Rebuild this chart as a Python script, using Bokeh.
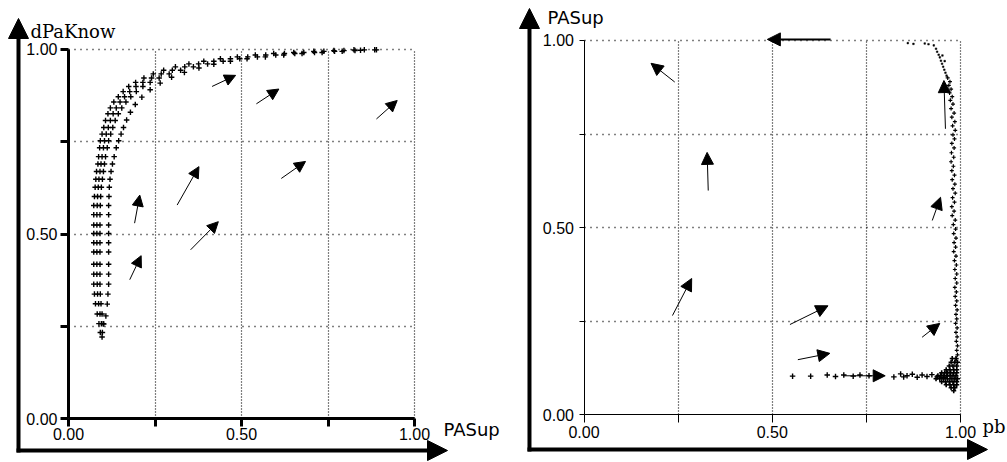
from bokeh.plotting import figure
from bokeh.layouts import row
from bokeh.models import (LinearAxis, Grid, FixedTicker, NumeralTickFormatter, Arrow,
                          NormalHead, Label, ColumnDataSource, Range1d)
from bokeh.embed import file_html
from bokeh.resources import INLINE

# ---------------- data : left phase plane (PASup vs dPaKnow) ----------------
trajA_x = [0.097, 0.092, 0.088, 0.083, 0.078, 0.075, 0.073, 0.073, 0.073, 0.073, 0.073, 0.073,
           0.073, 0.073, 0.073, 0.075, 0.077, 0.079, 0.081, 0.085, 0.087, 0.090, 0.092, 0.097,
           0.102, 0.107, 0.114, 0.121, 0.131, 0.144, 0.158, 0.174, 0.194, 0.218, 0.245, 0.275,
           0.309, 0.348, 0.391, 0.439, 0.488, 0.540, 0.593, 0.651, 0.709, 0.767, 0.825]
trajA_y = [0.222, 0.234, 0.258, 0.284, 0.312, 0.338, 0.365, 0.392, 0.419, 0.452, 0.477, 0.502,
           0.525, 0.553, 0.578, 0.602, 0.627, 0.649, 0.670, 0.690, 0.710, 0.734, 0.753, 0.771,
           0.789, 0.808, 0.826, 0.842, 0.858, 0.872, 0.886, 0.900, 0.911, 0.923, 0.934, 0.944,
           0.953, 0.961, 0.968, 0.975, 0.980, 0.985, 0.989, 0.992, 0.995, 0.997, 0.999]
trajB_x = [0.098, 0.095, 0.091, 0.087, 0.084, 0.083, 0.082, 0.082, 0.082, 0.082, 0.082, 0.082,
           0.082, 0.083, 0.084, 0.086, 0.088, 0.091, 0.094, 0.097, 0.101, 0.104, 0.109, 0.115,
           0.121, 0.129, 0.138, 0.149, 0.162, 0.177, 0.195, 0.215, 0.240, 0.268, 0.300, 0.336,
           0.376, 0.420, 0.468, 0.518, 0.570, 0.624, 0.680, 0.738, 0.796, 0.855]
trajB_y = [0.234, 0.258, 0.284, 0.312, 0.338, 0.365, 0.392, 0.419, 0.452, 0.477, 0.502, 0.525,
           0.553, 0.578, 0.602, 0.627, 0.649, 0.670, 0.690, 0.710, 0.734, 0.753, 0.771, 0.789,
           0.808, 0.826, 0.842, 0.858, 0.872, 0.886, 0.900, 0.911, 0.923, 0.934, 0.944, 0.953,
           0.961, 0.968, 0.975, 0.980, 0.985, 0.989, 0.992, 0.995, 0.997, 0.999]
trajC_x = [0.100, 0.097, 0.094, 0.092, 0.091, 0.091, 0.091, 0.091, 0.091, 0.091, 0.091, 0.091,
           0.092, 0.093, 0.095, 0.098, 0.101, 0.104, 0.107, 0.112, 0.116, 0.122, 0.128, 0.135,
           0.144, 0.154, 0.166, 0.180, 0.196, 0.215, 0.236, 0.262, 0.291, 0.324, 0.361, 0.402,
           0.447, 0.495, 0.546, 0.599, 0.654, 0.711, 0.769, 0.828, 0.885]
trajC_y = [0.258, 0.284, 0.312, 0.338, 0.365, 0.392, 0.419, 0.452, 0.477, 0.502, 0.525, 0.553,
           0.578, 0.602, 0.627, 0.649, 0.670, 0.690, 0.710, 0.734, 0.753, 0.771, 0.789, 0.808,
           0.826, 0.842, 0.858, 0.872, 0.886, 0.900, 0.911, 0.923, 0.934, 0.944, 0.953, 0.961,
           0.968, 0.975, 0.980, 0.985, 0.989, 0.992, 0.995, 0.997, 0.999]
trajD_x = [0.102, 0.108, 0.112, 0.114, 0.116, 0.116, 0.116, 0.116, 0.116, 0.116, 0.116, 0.116,
           0.116, 0.117, 0.118, 0.120, 0.123, 0.127, 0.132, 0.138, 0.145, 0.152, 0.159, 0.168,
           0.179, 0.193, 0.212, 0.236, 0.265, 0.298, 0.335, 0.377, 0.420, 0.468, 0.516, 0.569,
           0.622, 0.675, 0.733, 0.791, 0.844, 0.890]
trajD_y = [0.257, 0.279, 0.311, 0.338, 0.365, 0.392, 0.419, 0.452, 0.477, 0.502, 0.525, 0.553,
           0.578, 0.602, 0.627, 0.649, 0.670, 0.690, 0.710, 0.734, 0.753, 0.771, 0.789, 0.809,
           0.830, 0.851, 0.871, 0.891, 0.909, 0.925, 0.938, 0.950, 0.960, 0.968, 0.975, 0.980,
           0.985, 0.989, 0.992, 0.995, 0.998, 0.999]

left_arrow_x0 = [0.415, 0.543, 0.890, 0.615, 0.314, 0.191, 0.353, 0.177]
left_arrow_y0 = [0.900, 0.853, 0.812, 0.651, 0.579, 0.530, 0.458, 0.377]
left_arrow_x1 = [0.483, 0.608, 0.950, 0.685, 0.377, 0.206, 0.433, 0.210]
left_arrow_y1 = [0.930, 0.893, 0.862, 0.697, 0.683, 0.606, 0.534, 0.442]

# ---------------- data : right phase plane (pb vs PASup) ----------------
top_x = [0.860, 0.875, 0.905, 0.915, 0.929, 0.935, 0.938, 0.942, 0.945, 0.948, 0.951, 0.952,
         0.954, 0.957, 0.958, 0.960, 0.963]
top_y = [0.993, 0.991, 0.992, 0.990, 0.987, 0.978, 0.970, 0.962, 0.955, 0.946, 0.938, 0.960,
         0.930, 0.922, 0.945, 0.914, 0.906]

col_x = [0.966, 0.972, 0.969, 0.975, 0.971, 0.978, 0.973, 0.980, 0.975, 0.983, 0.977, 0.985,
         0.979, 0.986, 0.980, 0.984, 0.977, 0.983, 0.976, 0.982, 0.975, 0.981, 0.977, 0.984,
         0.978, 0.985, 0.980, 0.986, 0.979, 0.984, 0.977, 0.983, 0.978, 0.986, 0.981, 0.987,
         0.982, 0.988, 0.983, 0.987, 0.982, 0.988, 0.984, 0.989, 0.985, 0.990, 0.986, 0.990,
         0.985, 0.989, 0.986, 0.990, 0.987, 0.991, 0.988, 0.990, 0.987, 0.991, 0.988, 0.991,
         0.989, 0.992, 0.990, 0.992, 0.989]
col_y = [0.900, 0.890, 0.880, 0.870, 0.860, 0.850, 0.840, 0.830, 0.818, 0.806, 0.795, 0.783,
         0.772, 0.760, 0.748, 0.737, 0.725, 0.713, 0.700, 0.688, 0.676, 0.664, 0.652, 0.640,
         0.628, 0.616, 0.604, 0.592, 0.580, 0.568, 0.556, 0.544, 0.532, 0.520, 0.508, 0.496,
         0.484, 0.472, 0.460, 0.448, 0.436, 0.424, 0.412, 0.400, 0.388, 0.376, 0.364, 0.352,
         0.340, 0.328, 0.316, 0.304, 0.292, 0.280, 0.268, 0.256, 0.244, 0.232, 0.220, 0.208,
         0.196, 0.184, 0.172, 0.160, 0.150]

row_x = [0.554, 0.602, 0.646, 0.668, 0.690, 0.715, 0.733, 0.757, 0.823, 0.841, 0.849, 0.858,
         0.872, 0.885, 0.898, 0.911, 0.924, 0.938, 0.947, 0.955, 0.964]
row_y = [0.103, 0.103, 0.106, 0.102, 0.106, 0.103, 0.106, 0.104, 0.101, 0.109, 0.101, 0.104,
         0.108, 0.100, 0.106, 0.102, 0.107, 0.101, 0.105, 0.100, 0.104]

clus_x = [0.978, 0.988, 0.975, 0.985, 0.992, 0.970, 0.980, 0.990, 0.962, 0.972, 0.982, 0.990,
          0.950, 0.958, 0.966, 0.974, 0.982, 0.990, 0.940, 0.948, 0.956, 0.964, 0.972, 0.980,
          0.988, 0.935, 0.945, 0.955, 0.965, 0.975, 0.985, 0.992, 0.950, 0.960, 0.970, 0.980,
          0.990, 0.962, 0.972, 0.982, 0.990, 0.975, 0.985, 0.982]
clus_y = [0.150, 0.150, 0.140, 0.140, 0.140, 0.130, 0.130, 0.130, 0.120, 0.120, 0.120, 0.120,
          0.112, 0.112, 0.112, 0.112, 0.112, 0.112, 0.104, 0.104, 0.104, 0.104, 0.104, 0.104,
          0.104, 0.096, 0.096, 0.096, 0.096, 0.096, 0.096, 0.096, 0.088, 0.088, 0.088, 0.088,
          0.088, 0.080, 0.080, 0.080, 0.080, 0.072, 0.072, 0.064]

right_arrow_x0 = [0.330, 0.235, 0.547, 0.568, 0.241, 0.960, 0.925, 0.898, 0.689]
right_arrow_y0 = [0.599, 0.265, 0.241, 0.147, 0.889, 0.764, 0.519, 0.207, 0.104]
right_arrow_x1 = [0.327, 0.286, 0.648, 0.653, 0.178, 0.956, 0.947, 0.945, 0.800]
right_arrow_y1 = [0.701, 0.364, 0.291, 0.164, 0.939, 0.893, 0.581, 0.244, 0.104]
top_arrow = dict(x0=0.655, y0=1.003, x1=0.487, y1=1.003)

major_ticks = [0.0, 0.5, 1.0]
minor_ticks = [0.25, 0.75]
grid_ticks = [0.25, 0.5, 0.75, 1.0]

TICK_FONT = "Liberation Sans"


def base_fig(width, xr, yr):
    p = figure(width=width, height=462, x_range=Range1d(*xr), y_range=Range1d(*yr),
               x_axis_type=None, y_axis_type=None, output_backend="svg",
               toolbar_location=None, min_border=0, outline_line_color=None,
               background_fill_color="white", border_fill_color="white")
    return p


def add_axes(p, lw, tick_len_x, tick_len_y, standoff_x, standoff_y):
    for side, standoff, tl in (("below", standoff_x, tick_len_x), ("left", standoff_y, tick_len_y)):
        ax = LinearAxis(fixed_location=0, bounds=(0, 1),
                        ticker=FixedTicker(ticks=major_ticks, minor_ticks=minor_ticks),
                        formatter=NumeralTickFormatter(format="0.00"),
                        axis_line_width=lw, axis_line_color="black",
                        major_tick_line_width=lw, minor_tick_line_width=lw,
                        major_tick_out=tl, major_tick_in=0, minor_tick_out=tl, minor_tick_in=0,
                        major_label_text_font=TICK_FONT, major_label_text_font_size="16px",
                        major_label_text_color="black", major_label_standoff=standoff)
        p.add_layout(ax, side)


def add_grid(p):
    p.add_layout(Grid(dimension=0, ticker=FixedTicker(ticks=grid_ticks), cross_bounds=(0, 1),
                      grid_line_color="black", grid_line_dash="1 2", grid_line_width=1.2))
    p.add_layout(Grid(dimension=1, ticker=FixedTicker(ticks=grid_ticks), cross_bounds=(0, 1),
                      grid_line_color="black", grid_line_dash="1 5", grid_line_width=1.4))


def add_arrows(p, x0, y0, x1, y1, size=11, lw=1):
    src = ColumnDataSource(dict(x0=x0, y0=y0, x1=x1, y1=y1))
    p.add_layout(Arrow(x_start="x0", y_start="y0", x_end="x1", y_end="y1", source=src,
                       line_width=lw, line_color="black",
                       end=NormalHead(size=size, fill_color="black", line_color="black", line_width=1)))


def outer_arrows(p, vx, vy0, vy1, hy, hx0, hx1):
    head = dict(fill_color="black", line_color="black", line_width=1)
    p.add_layout(Arrow(x_start=vx, y_start=vy0, x_end=vx, y_end=vy1, line_width=4,
                       line_color="black", end=NormalHead(size=20, **head)))
    p.add_layout(Arrow(x_start=hx0, y_start=hy, x_end=hx1, y_end=hy, line_width=4,
                       line_color="black", end=NormalHead(size=20, **head)))


# ---------------- left figure ----------------
p1 = base_fig(500, (-0.19653, 1.24855), (-0.11773, 1.13261))
add_grid(p1)
add_axes(p1, 3, 8, 8, 1, 3)
for xs, ys in ((trajA_x, trajA_y), (trajB_x, trajB_y), (trajC_x, trajC_y), (trajD_x, trajD_y)):
    p1.scatter(x=xs, y=ys, marker="cross", size=5.5, line_color="black", line_width=1.4)
add_arrows(p1, left_arrow_x0, left_arrow_y0, left_arrow_x1, left_arrow_y1, size=11)
outer_arrows(p1, -0.1445, -0.0907, 1.0839, -0.0853, -0.1503, 1.0954)
p1.add_layout(Label(x=-0.1098, y=1.0487, text="dPaKnow", text_font="DejaVu Serif",
                    text_font_size="18px", text_baseline="alphabetic", text_color="black"))
p1.add_layout(Label(x=1.0838, y=-0.0285, text="PASup", text_font="DejaVu Sans",
                    text_font_size="18px", text_baseline="alphabetic", text_color="black"))

# ---------------- right figure ----------------
p2 = base_fig(507, (-0.22178, 1.12483), (-0.12774, 1.10689))
add_grid(p2)
add_axes(p2, 1, 8, 5, 3, 5)
p2.scatter(x=top_x, y=top_y, marker="square", size=1.6, line_color="black", fill_color="black",
           line_width=0.5)
p2.scatter(x=col_x, y=col_y, marker="cross", size=4, line_color="black", line_width=1.2)
p2.scatter(x=row_x, y=row_y, marker="cross", size=5.5, line_color="black", line_width=1.4)
p2.scatter(x=clus_x, y=clus_y, marker="cross", size=5, line_color="black", line_width=1.6)
add_arrows(p2, right_arrow_x0, right_arrow_y0, right_arrow_x1, right_arrow_y1, size=12)
add_arrows(p2, [top_arrow["x0"]], [top_arrow["y0"]], [top_arrow["x1"]], [top_arrow["y1"]],
           size=13, lw=2)
outer_arrows(p2, -0.1448, -0.0983, 1.0855, -0.0930, -0.1501, 1.0717)
p2.add_layout(Label(x=-0.0969, y=1.0615, text="PASup", text_font="DejaVu Sans",
                    text_font_size="18px", text_baseline="alphabetic", text_color="black"))
p2.add_layout(Label(x=1.0584, y=-0.0316, text="pb", text_font="DejaVu Serif",
                    text_font_size="18px", text_baseline="alphabetic", text_color="black"))

layout = row(p1, p2, spacing=0)
open("out.html", "w").write(file_html(layout, INLINE))
